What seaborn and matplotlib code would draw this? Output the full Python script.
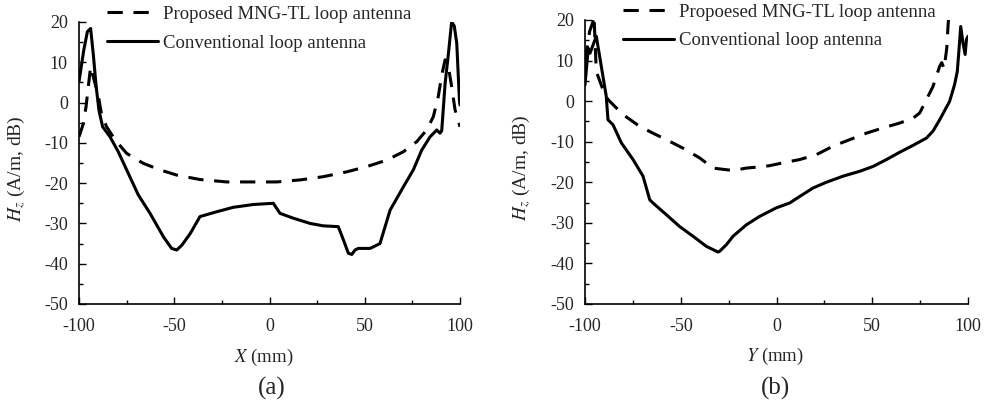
import numpy as np
import pandas as pd
import matplotlib
matplotlib.use("Agg")
import matplotlib.pyplot as plt
import seaborn as sns

# ---------------- data ----------------
x_a_conv = [-100, -97.5, -95.6, -93.9, -92.5, -91.0, -89.5, -87.6, -83.7, -79.4, -74.1, -68.9, -62.7, -55.7,
            -51.4, -48.7, -46.0, -41.6, -36.5, -27.7, -19.0, -8.5, 2.0, 5.5, 12.5, 21.3, 28.2, 36.1, 38.8,
            41.4, 43.2, 44.9, 46.6, 52.8, 58.0, 63.3, 70.3, 75.5, 79.9, 84.3, 87.8, 89.5, 90.4, 92.2, 94.0,
            95.6, 97.0, 98.3, 99.7, 100]
y_a_conv = [5.2, 13.0, 17.6, 18.4, 12.0, 4.0, -2.0, -6.0, -8.5, -12.2, -17.6, -22.9, -27.5, -33.3,
            -36.2, -36.6, -35.4, -32.5, -28.3, -27.1, -26.0, -25.3, -25.0, -27.5, -28.7, -30.0, -30.6, -30.8, -34.1,
            -37.4, -37.7, -36.6, -36.2, -36.2, -35.0, -26.7, -20.9, -16.7, -11.8, -8.5, -6.8, -7.6, -7.0, 4.8, 12.5,
            20.0, 19.0, 14.7, 0.6, -0.6]

x_a_prop = [-100, -97.7, -96.3, -95.1, -93.9, -92.5, -89.8, -88.1, -85.5, -81.0, -75.0, -66.2, -57.5, -48.7,
            -36.5, -22.5, -8.5, 3.8, 16.0, 28.2, 40.5, 51.0, 61.5, 70.3, 77.3, 82.5, 86.0, 88.6, 90.4, 92.2,
            93.9, 95.6, 97.4, 100]
y_a_prop = [-8.5, -5.2, -1.0, 4.0, 8.9, 6.4, 1.5, -3.1, -6.0, -9.3, -12.6, -15.1, -16.7, -18.0,
            -19.1, -19.7, -19.7, -19.7, -19.2, -18.4, -17.2, -15.9, -14.3, -12.2, -9.7, -6.8, -3.5, 1.5, 6.8, 10.6,
            8.9, 4.0, -1.8, -6.0]

x_b_conv = [-100, -98.3, -97.4, -94.1, -91.5, -88.9, -88.0, -85.4, -81.0, -74.9, -69.7, -66.2, -64.5, -57.5,
            -50.6, -43.6, -36.6, -30.5, -29.7, -26.2, -22.7, -15.8, -8.8, -0.1, 6.9, 12.1, 19.1, 26.0, 34.7,
            43.4, 50.4, 57.4, 64.3, 71.3, 78.3, 81.7, 85.2, 90.4, 93.0, 94.4, 95.3, 96.2, 97.4, 98.5, 99.2, 100]
y_b_conv = [4.0, 13.0, 11.8, 16.0, 8.6, 1.2, -4.6, -5.8, -10.3, -14.4, -18.5, -24.3, -25.1, -28.0,
            -30.9, -33.3, -35.8, -37.2, -37.0, -35.4, -33.3, -30.5, -28.4, -26.3, -25.1, -23.5, -21.4, -20.0, -18.5,
            -17.3, -16.1, -14.4, -12.6, -10.9, -9.1, -7.4, -4.6, -0.05, 4.1, 7.3, 12.7, 18.4, 14.3, 11.5, 15.2, 16.0]

x_b_prop = [-100, -98.5, -97.6, -95.8, -95.3, -94.1, -90.6, -88.0, -80.2, -71.5, -64.5, -57.5, -48.8, -40.1,
            -33.2, -26.2, -22.7, -15.8, -8.8, -3.6, 3.4, 12.1, 20.8, 29.5, 38.2, 46.9, 55.6, 64.3, 71.3,
            74.8, 78.3, 81.7, 85.2, 86.3, 87.5, 88.9, 89.5, 90.5]
y_b_prop = [10.0, 14.0, 17.2, 19.6, 21.0, 7.3, 2.8, 0.4, -3.3, -6.2, -7.9, -9.5, -11.6, -14.0,
            -16.5, -16.9, -17.1, -16.5, -16.2, -15.9, -15.2, -14.4, -13.2, -11.1, -9.5, -7.9, -6.6, -5.4, -4.2,
            -2.9, 0.4, 3.6, 8.6, 9.5, 8.0, 13.0, 18.0, 25.0]

label_prop_a = "Proposed MNG-TL loop antenna"
label_prop_b = "Propoesed MNG-TL loop antenna"
label_conv = "Conventional loop antenna"
x_ticks = [-100, -50, 0, 50, 100]
y_ticks = [-50, -40, -30, -20, -10, 0, 10, 20]

# ---------------- style ----------------
sns.set_theme(style="ticks")
plt.rcParams["font.family"] = ["Liberation Serif", "DejaVu Serif"]
plt.rcParams["mathtext.fontset"] = "stix"
plt.rcParams["axes.unicode_minus"] = False
plt.rcParams["xtick.direction"] = "in"
plt.rcParams["ytick.direction"] = "in"

fig = plt.figure(figsize=(9.86, 4.04), dpi=100)
ax_a = fig.add_axes([79 / 986, 1 - 304 / 404, 381 / 986, 282 / 404])
ax_b = fig.add_axes([585 / 986, 1 - 304 / 404, 383 / 986, 284 / 404])

LW = 2.2
DASH = (5, 3.5)

def draw(ax, xp, yp, xc, yc, lab_prop, xlabel, legend_x):
    dfp = pd.DataFrame({"x": xp, "y": yp})
    dfc = pd.DataFrame({"x": xc, "y": yc})
    sns.lineplot(data=dfp, x="x", y="y", ax=ax, color="black", lw=LW, sort=False,
                 estimator=None, label=lab_prop, dashes=False)
    ax.lines[-1].set_dashes(DASH)
    sns.lineplot(data=dfc, x="x", y="y", ax=ax, color="black", lw=LW, sort=False,
                 estimator=None, label=label_conv)
    ax.set_xlim(-100, 100)
    ax.set_ylim(-50, 20)
    ax.set_xticks(x_ticks)
    ax.set_yticks(y_ticks)
    ax.set_xticks([-75, -25, 25, 75], minor=True)
    ax.set_yticks([-45, -35, -25, -15, -5, 5, 15], minor=True)
    ax.tick_params(axis="both", which="major", labelsize=13, length=5, width=1, color="black")
    ax.tick_params(axis="x", which="major", pad=10)
    ax.tick_params(axis="y", which="major", pad=8)
    ax.tick_params(axis="both", which="minor", length=3, width=1, color="black")
    for s in ["top", "right"]:
        ax.spines[s].set_visible(False)
    for s in ["left", "bottom"]:
        ax.spines[s].set_color("black")
        ax.spines[s].set_linewidth(1.2)
    ax.set_xlabel(xlabel, fontsize=13.5)
    ax.set_ylabel(r"$H_z$ (A/m, dB)", fontsize=14)
    leg = ax.legend(loc="upper left", bbox_to_anchor=(legend_x, 1.058), frameon=False,
                    fontsize=13.5, handlelength=2.7, handletextpad=0.3, borderpad=0,
                    borderaxespad=0, labelspacing=0.62)
    for h in leg.get_lines():
        h.set_linewidth(LW)
    leg.get_lines()[0].set_dashes(DASH)

draw(ax_a, x_a_prop, y_a_prop, x_a_conv, y_a_conv, label_prop_a, r"$X$ (mm)", 0.0735)
draw(ax_b, x_b_prop, y_b_prop, x_b_conv, y_b_conv, label_prop_b, r"$Y$ (mm)", 0.099)

ax_a.xaxis.set_label_coords(0.485, -0.152)
ax_a.yaxis.set_label_coords(-0.136, 0.48)
ax_b.xaxis.set_label_coords(0.495, -0.148)
ax_b.yaxis.set_label_coords(-0.138, 0.48)

fig.text(272 / 986, 1 - 388 / 404, "(a)", ha="center", va="center", fontsize=18)
fig.text(776 / 986, 1 - 388 / 404, "(b)", ha="center", va="center", fontsize=18)

fig.savefig("out.png", dpi=100, facecolor="white")
